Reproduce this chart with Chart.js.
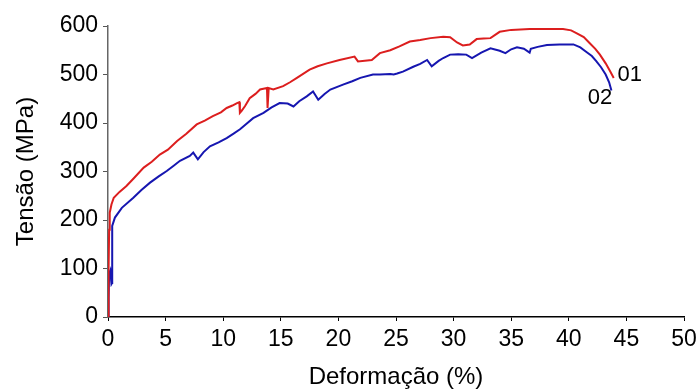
<!DOCTYPE html>
<html>
<head>
<meta charset="utf-8">
<script src="https://cdn.jsdelivr.net/npm/chart.js@4"></script>
<style>
  body { margin: 0; background: #fff; }
  #chart { display: block; }
</style>
</head>
<body>
<canvas id="chart" width="699" height="392"></canvas>
<script>
// curva 01 (vermelha)
let strain01 = [0, 0.05, 0.1, 0.15, 0.3, 0.5, 1.0, 1.6, 2.2, 3.1, 3.8, 4.5, 5.2, 6.0, 6.8, 7.7, 8.4, 9.1, 9.8, 10.3, 10.8, 11.2, 11.4, 11.45, 11.6, 11.9, 12.3, 12.8, 13.2, 13.8, 13.85, 13.95, 14.35, 15.2, 15.8, 16.4, 17.5, 18.2, 19.0, 20.1, 21.4, 21.7, 22.9, 23.6, 24.5, 25.3, 26.2, 27.1, 28.0, 29.1, 29.7, 30.3, 30.8, 31.4, 32.0, 32.6, 33.2, 34.0, 35.0, 36.6, 38.0, 39.5, 40.2, 40.7, 41.3, 41.8, 42.3, 42.7, 43.2, 43.6, 43.9];
let stress01 = [0, 100, 180, 215, 232, 246, 258, 270, 285, 308, 320, 335, 345, 363, 378, 397, 405, 414, 422, 431, 436, 441, 443, 421, 425, 435, 451, 460, 469, 472, 431, 472, 469, 476, 484, 493, 510, 517, 523, 530, 537, 527, 530, 544, 550, 558, 568, 571, 575, 578, 577, 566, 560, 562, 573, 574, 575, 588, 592, 594, 594, 594, 591, 585, 577, 565, 553, 541, 523, 506, 493];
// curva 02 (azul)
let strain02 = [0, 0.05, 0.1, 0.2, 0.3, 0.35, 0.35, 0.38, 0.6, 1.2, 2.2, 2.9, 3.65, 4.4, 5.1, 5.7, 6.25, 7.1, 7.4, 7.8, 8.3, 8.85, 9.6, 10.3, 10.9, 11.46, 12.0, 12.6, 13.5, 14.2, 14.9, 15.6, 16.1, 16.6, 17.25, 17.8, 18.25, 18.8, 19.3, 20.4, 21.2, 21.9, 23.0, 23.6, 24.5, 24.8, 25.1, 25.6, 26.5, 27.1, 27.7, 28.1, 28.7, 29.1, 29.7, 30.4, 31.1, 31.6, 32.4, 33.2, 34.0, 34.5, 35.0, 35.5, 36.1, 36.6, 36.7, 37.3, 38.1, 39.2, 40.4, 41.0, 41.5, 42.0, 42.4, 42.8, 43.2, 43.5, 43.7];
let stress02 = [0, 40, 90, 96, 68, 70, 150, 188, 205, 225, 246, 262, 277, 290, 301, 312, 322, 332, 339, 325, 340, 352, 360, 369, 378, 387, 398, 410, 421, 432, 441, 440, 434, 445, 455, 465, 448, 460, 469, 479, 486, 493, 500, 500, 501, 500, 502, 506, 516, 522, 530, 517, 528, 534, 541, 542, 541, 534, 545, 554, 549, 544, 552, 556, 553, 545, 553, 557, 561, 562, 562, 556, 547, 538, 527, 515, 500, 484, 467];

let curveNames = ['01', '02'];
let xTicksMax = 50;
let yTicksMax = 600;

function toPoints(xs, ys) {
    let pts = [];
    for (let i = 0; i < xs.length; i++) {
        pts.push({ x: xs[i], y: ys[i] });
    }
    return pts;
}

// rótulos 01 / 02 junto ao fim das curvas
const endLabels = {
    id: 'endLabels',
    afterDatasetsDraw(chart) {
        let ctx = chart.ctx;
        let xs = chart.scales.x;
        let ys = chart.scales.y;
        let spots = [[45.3, 500], [42.7, 452]];
        ctx.save();
        ctx.fillStyle = '#000';
        ctx.font = '22px "Liberation Sans", Arial, sans-serif';
        ctx.textAlign = 'center';
        ctx.textBaseline = 'middle';
        for (let i = 0; i < curveNames.length; i++) {
            ctx.fillText(curveNames[i], xs.getPixelForValue(spots[i][0]), ys.getPixelForValue(spots[i][1]));
        }
        ctx.restore();
    }
};

let tickFont = { family: '"Liberation Sans", Arial, sans-serif', size: 23 };
let titleFont = { family: '"Liberation Sans", Arial, sans-serif', size: 24 };

var chart = new Chart(document.getElementById('chart'), {
    type: 'scatter',
    data: {
        datasets: [
            {
                label: curveNames[0],
                data: toPoints(strain01, stress01),
                showLine: true,
                borderColor: '#dc1e1e',
                borderWidth: 2,
                pointRadius: 0,
                tension: 0
            },
            {
                label: curveNames[1],
                data: toPoints(strain02, stress02),
                showLine: true,
                borderColor: '#1616b0',
                borderWidth: 2,
                pointRadius: 0,
                tension: 0
            }
        ]
    },
    options: {
        responsive: false,
        animation: false,
        layout: { padding: { top: 26, right: 15, left: 0, bottom: 0 } },
        scales: {
            x: {
                min: 0,
                max: xTicksMax,
                afterFit: (s) => { s.height = 75; s.paddingRight = 0; s.paddingLeft = 0; },
                ticks: { stepSize: 5, color: '#000', font: tickFont, padding: 5, maxRotation: 0 },
                grid: { display: true, drawOnChartArea: false, drawTicks: true, tickLength: 4, color: '#000' },
                border: { display: true, color: '#000', width: 1.5 },
                title: { display: true, text: 'Deformação (%)', color: '#000', font: titleFont, padding: { top: 4, bottom: 0 } }
            },
            y: {
                min: 0,
                max: yTicksMax,
                afterFit: (s) => { s.width = 108; },
                ticks: { stepSize: 100, color: '#000', font: tickFont, padding: 5 },
                grid: { display: true, drawOnChartArea: false, drawTicks: true, tickLength: 5, color: '#555' },
                border: { display: true, color: '#666', width: 1.5 },
                title: { display: true, text: 'Tensão (MPa)', color: '#000', font: titleFont, padding: { top: 12, bottom: 4 } }
            }
        },
        plugins: {
            legend: { display: false },
            tooltip: { enabled: false }
        }
    },
    plugins: [endLabels]
});
</script>
</body>
</html>
